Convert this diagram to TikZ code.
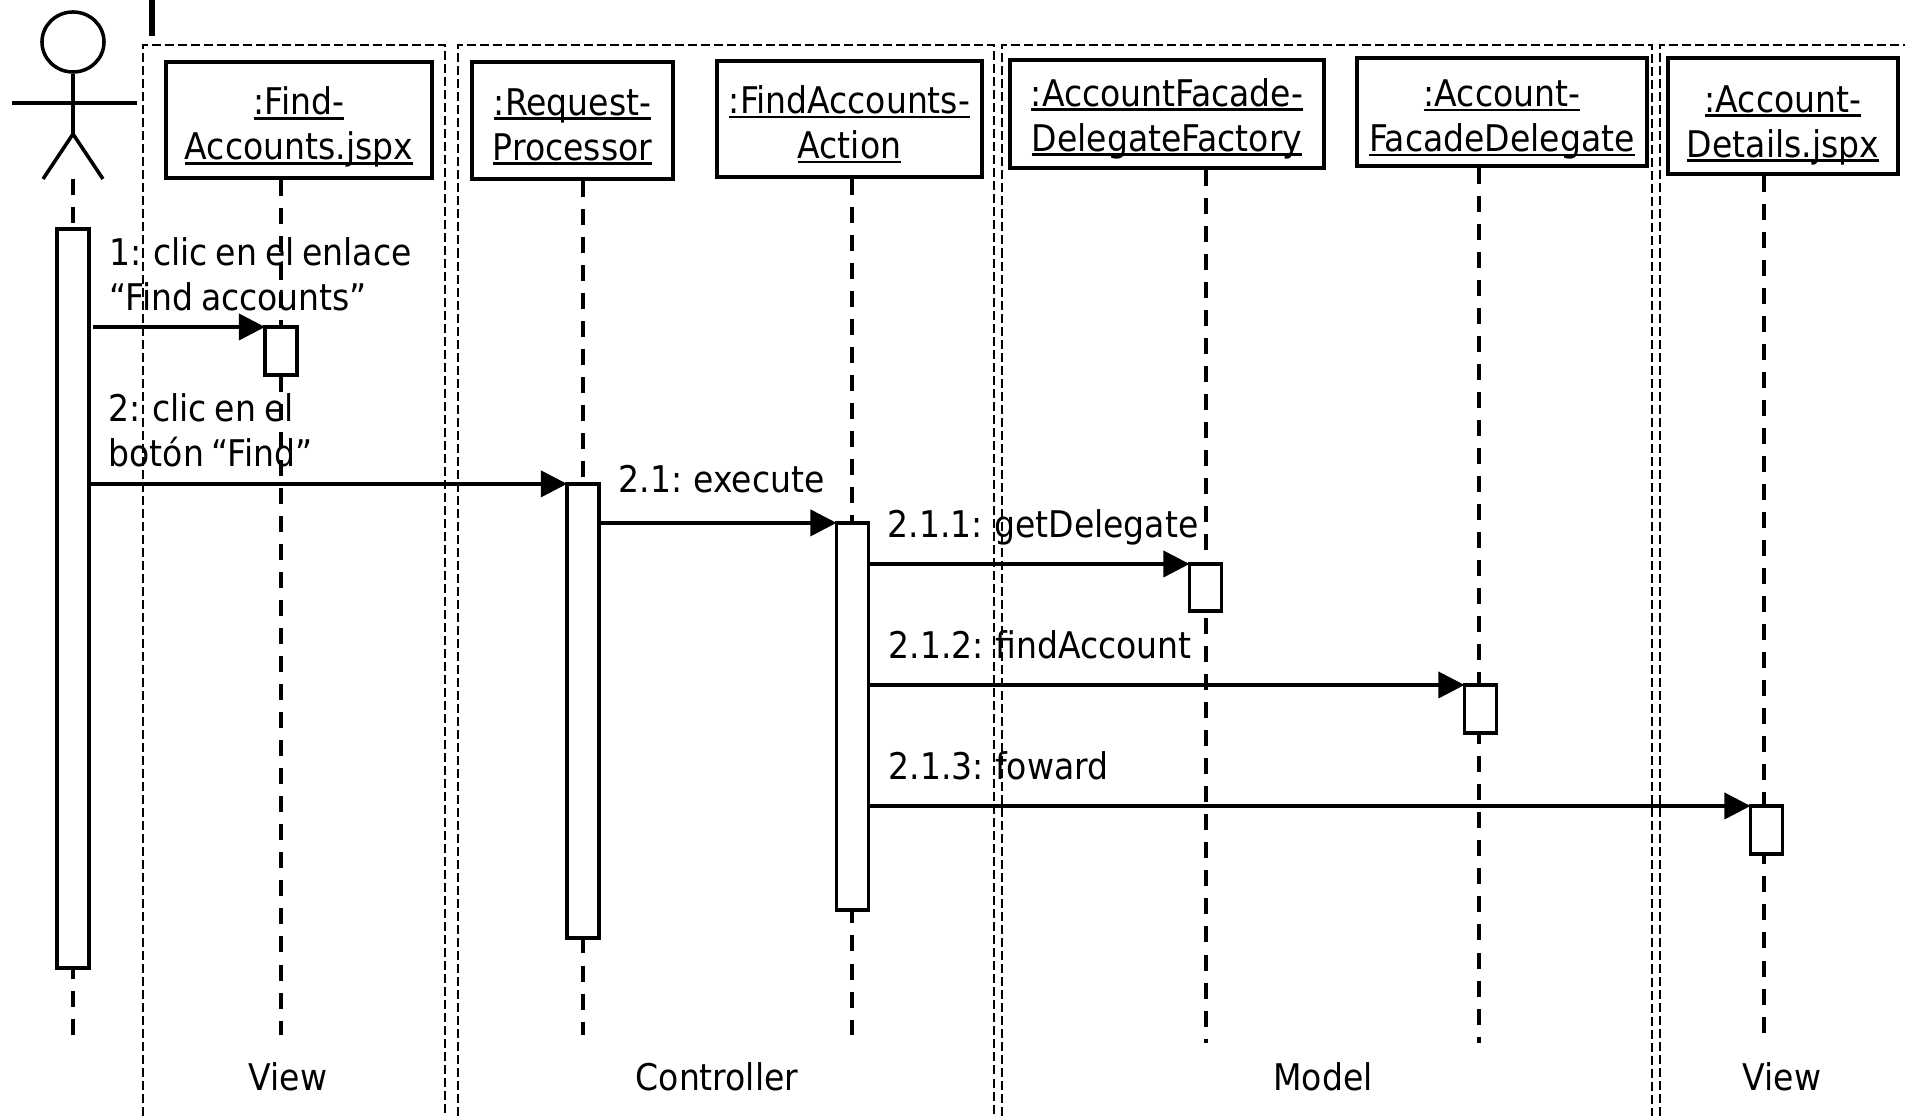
\documentclass[tikz,border=0pt]{standalone}
\usepackage{fontspec}
\setmainfont[WordSpace=0.75]{DejaVu Sans Condensed}
\usetikzlibrary{shapes.geometric}
\usetikzlibrary{arrows.meta}

\newsavebox{\ulbox}
\newcommand{\ultext}[1]{\sbox{\ulbox}{#1}\usebox{\ulbox}\llap{\rule[-1.4pt]{\wd\ulbox}{0.75pt}}}
\newcommand{\objname}[2]{\ultext{#1}\\\ultext{#2}}

\tikzset{
    objbox/.style={draw,line width=1.15pt,fill=white,align=center,inner sep=0pt,text depth=2.5pt,font=\fontsize{10.45}{12.8}\selectfont},
    actbox/.style={draw,line width=1.05pt,fill=white,inner sep=0pt,outer sep=0pt,minimum width=0.32cm},
    msgtext/.style={anchor=west,align=left,inner sep=0pt,font=\fontsize{10.45}{12.8}\selectfont},
    lifeline/.style={line width=1pt,dash pattern=on 1.6mm off 1.2mm},
    layerframe/.style={line width=0.6pt,dash pattern=on 0.9mm off 0.4mm},
    actorline/.style={line width=1pt},
    msgarrow/.style={draw,line width=1.05pt,-{Triangle[length=2.6mm,width=2.6mm]}}
}

\begin{document}
\begin{tikzpicture}[x=0.01cm,y=-0.01cm]
    \useasboundingbox (0,0) rectangle (1905,1116);
    \clip (0,0) rectangle (1905,1116);

    % layers
    \draw[layerframe] (143,1116) -- (143,45) -- (445,45) -- (445,1116);
    \draw[layerframe] (458,1116) -- (458,45) -- (994,45) -- (994,1116);
    \draw[layerframe] (1002,1116) -- (1002,45) -- (1652,45) -- (1652,1116);
    \draw[layerframe] (1660,1116) -- (1660,45) -- (1905,45);
    \fill (149,0) rectangle (155,36);

    % actor
    \node[draw,ellipse,actorline,inner sep=0pt,minimum width=0.62cm,minimum height=0.6cm] (head) at (73,42) {};
    \coordinate (hip) at (73,134);
    \coordinate (armleft) at (12,103);
    \coordinate (armright) at (137,103);
    \coordinate (footleft) at (43,179);
    \coordinate (footright) at (103,179);
    \draw[actorline] (head.south) -- (hip);
    \draw[actorline] (armleft) -- (armright);
    \draw[actorline] (footleft) -- (hip) -- (footright);

    % objects
    \begin{scope}[every node/.style={objbox}]
        \node[text height=25.2pt,minimum width=2.66cm,minimum height=1.16cm] (findjspx) at (299,120) {\objname{:Find-}{Accounts.jspx}};
        \node[text height=25pt,minimum width=2.01cm,minimum height=1.17cm] (processor) at (572.5,120.5) {\objname{:Request-}{Processor}};
        \node[text height=25pt,minimum width=2.65cm,minimum height=1.16cm] (action) at (849.5,119) {\objname{:FindAccounts-}{Action}};
        \node[text height=23.6pt,minimum width=3.14cm,minimum height=1.08cm] (factory) at (1167,114) {\objname{:AccountFacade-}{DelegateFactory}};
        \node[text height=24.9pt,minimum width=2.89cm,minimum height=1.08cm] (delegate) at (1502,112) {\objname{:Account-}{FacadeDelegate}};
        \node[text height=25.9pt,minimum width=2.29cm,minimum height=1.16cm] (details) at (1783,116) {\objname{:Account-}{Details.jspx}};
    \end{scope}

    % ends of the lifelines
    \coordinate (actorend) at (73,1035);
    \coordinate (findend) at (281,1035);
    \coordinate (processorend) at (583,1035);
    \coordinate (actionend) at (852,1035);
    \coordinate (factoryend) at (1206,1043);
    \coordinate (delegateend) at (1479,1043);
    \coordinate (detailsend) at (1764,1043);

    \begin{scope}[lifeline]
        \draw (actorend |- footleft) -- (actorend);
        \draw (findend |- findjspx.south) -- (findend);
        \draw (processorend |- processor.south) -- (processorend);
        \draw (actionend |- action.south) -- (actionend);
        \draw (factoryend |- factory.south) -- (factoryend);
        \draw (delegateend |- delegate.south) -- (delegateend);
        \draw (detailsend |- details.south) -- (detailsend);
    \end{scope}

    % activations
    \begin{scope}[every node/.style={actbox}]
        \node[minimum height=7.39cm] (actactor) at (73,598.5) {};
        \node[minimum height=0.48cm] (actfind) at (281,351) {};
        \node[minimum height=4.54cm] (actprocessor) at (583,711) {};
        \node[minimum height=3.87cm] (actaction) at (852.5,716.5) {};
        \node[minimum height=0.47cm] (actfactory) at (1205.5,587.5) {};
        \node[minimum height=0.48cm] (actdelegate) at (1480.5,709) {};
        \node[minimum height=0.48cm] (actdetails) at (1766.5,830) {};
    \end{scope}

    % messages
    \begin{scope}[every edge/.style={msgarrow}]
        \path (actactor.east |- actfind.north west) edge[shorten <=0.04cm] (actfind.north west);
        \path (actactor.east |- actprocessor.north west) edge (actprocessor.north west);
        \path (actprocessor.east |- actaction.north west) edge (actaction.north west);
        \path (actaction.east |- actfactory.north west) edge (actfactory.north west);
        \path (actaction.east |- actdelegate.north west) edge (actdelegate.north west);
        \path (actaction.east |- actdetails.north west) edge (actdetails.north west);
    \end{scope}

    % labels
    \begin{scope}[every node/.style={msgtext}]
        \node (msgone) at (109,274) {1: clic en el enlace\\“Find accounts”};
        \node (msgtwo) at (108,430) {2: clic en el\\botón “Find”};
        \node (msgexec) at (618,479) {2.1: execute};
        \node (msgget) at (887,527) {2.1.1: getDelegate};
        \node (msgfind) at (888,645) {2.1.2: findAccount};
        \node (msgfwd) at (888,766) {2.1.3: foward};
    \end{scope}
    \begin{scope}[every node/.style={msgtext,anchor=center}]
        \node (viewleft) at (288,1077) {View};
        \node (controller) at (717,1077) {Controller};
        \node (model) at (1323,1077) {Model};
        \node (viewright) at (1782,1077) {View};
    \end{scope}
\end{tikzpicture}
\end{document}
